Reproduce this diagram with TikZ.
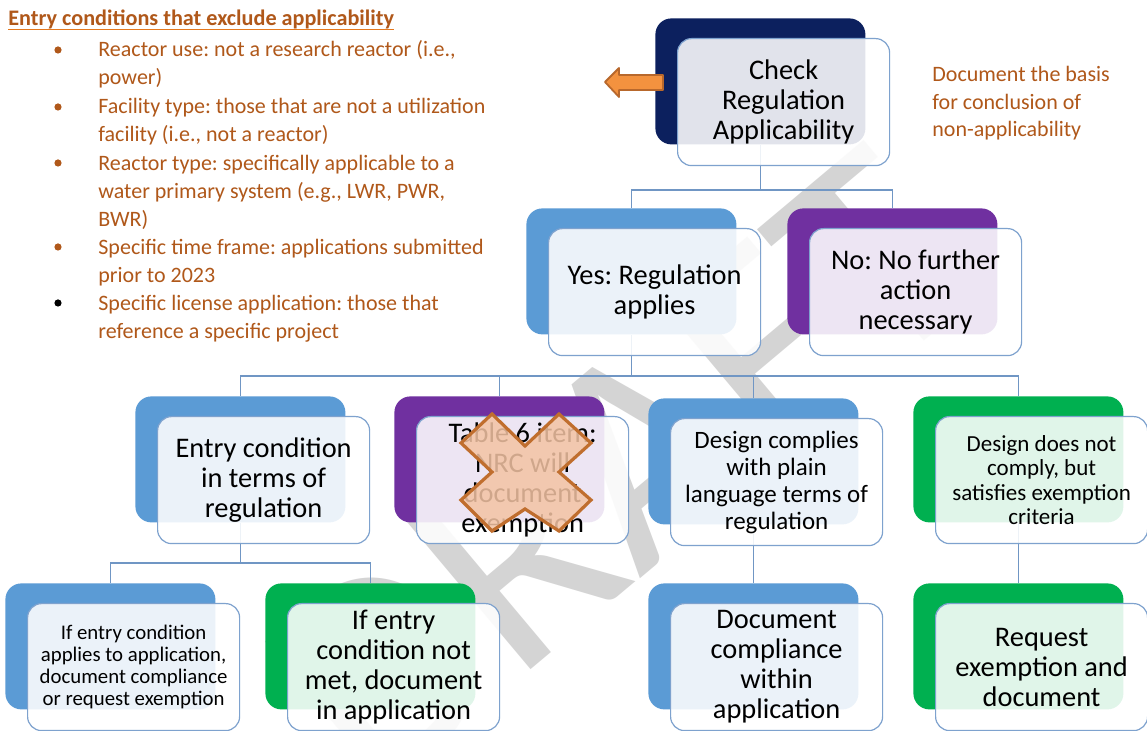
\documentclass[tikz,border=0pt]{standalone}
\usepackage{fontspec}
\setmainfont{Carlito}
\frenchspacing
\usetikzlibrary{calc}
\definecolor{navy}{RGB}{12,32,94}
\definecolor{sblue}{RGB}{91,155,213}
\definecolor{spurple}{RGB}{112,48,160}
\definecolor{sgreen}{RGB}{0,176,80}
\definecolor{brn}{RGB}{176,88,26}
\definecolor{lineblue}{RGB}{112,150,196}
\definecolor{edgeblue}{RGB}{126,162,206}
\definecolor{ulorange}{RGB}{228,120,30}
\definecolor{arrowfill}{RGB}{243,146,63}
\definecolor{arrowedge}{RGB}{184,104,44}
\definecolor{xfill}{RGB}{244,196,164}
\definecolor{xedge}{RGB}{192,110,46}
\pgfdeclarelayer{wm}
\pgfdeclarelayer{lines}
\pgfsetlayers{wm,lines,main}
\tikzset{
  backbox/.style={fill=#1, draw=none, rounded corners=8pt, minimum width=105pt,
    minimum height=63pt, inner sep=0pt, anchor=north west},
  frontbox/.style={fill=white, fill opacity=0.88, text opacity=1, draw=edgeblue,
    line width=0.6pt, rounded corners=7pt, minimum width=106pt, minimum height=63.5pt,
    anchor=north west, inner sep=0pt, align=center, text=black},
  conn/.style={draw=lineblue, line width=0.8pt},
  listline/.style={anchor=base west, inner sep=0pt, text=brn, font=\fontsize{11}{14}\selectfont},
  dot/.style={circle, fill=#1, minimum size=3.6pt, inner sep=0pt},
}
\newcommand\twobox[6]{%
  \node[backbox=#4] (#1B) at (#2,#3) {};
  \node[frontbox, font=#5] (#1) at ([shift={(22,20)}]#2,#3) {#6};
}
\begin{document}
\begin{tikzpicture}[x=0.5pt,y=-0.5pt]
\useasboundingbox (0,0) rectangle (1147,731);

% background and watermark
\begin{pgfonlayer}{wm}
\fill[white] (0,0) rectangle (1147,731);
\node[rotate=40, text=black!17, font=\fontsize{150}{150}\selectfont] (wmark) at (620,470) {DRAFT};
\end{pgfonlayer}

% boxes
\twobox{top}{655}{18}{navy}{\fontsize{14.2}{15}\selectfont}{Check\\Regulation\\Applicability}
\twobox{yes}{526}{208}{sblue}{\fontsize{14.2}{15}\selectfont}{Yes: Regulation\\applies}
\twobox{no}{787}{208}{spurple}{\fontsize{14.2}{15}\selectfont}{No: No further\\action\\necessary}
\twobox{entry}{135}{396}{sblue}{\fontsize{14.2}{15}\selectfont}{Entry condition\\in terms of\\regulation}
\twobox{tsix}{394}{396}{spurple}{\fontsize{14.2}{15}\selectfont}{Table 6 item:\\NRC will\\document\\exemption}
\twobox{comply}{648}{398}{sblue}{\fontsize{12.5}{13.5}\selectfont}{Design complies\\with plain\\language terms of\\regulation}
\twobox{notcomp}{913}{396}{sgreen}{\fontsize{11.5}{12.25}\selectfont}{Design does not\\comply, but\\satisfies exemption\\criteria}
\twobox{ifapp}{5}{583}{sblue}{\fontsize{10.4}{11}\selectfont}{If entry condition\\applies to application,\\document compliance\\or request exemption}
\twobox{ifnot}{265}{583}{sgreen}{\fontsize{14.2}{15}\selectfont}{If entry\\condition not\\met, document\\in application}
\twobox{doccomp}{648}{583}{sblue}{\fontsize{14.2}{15}\selectfont}{Document\\compliance\\within\\application}
\twobox{request}{913}{583}{sgreen}{\fontsize{14.2}{15}\selectfont}{Request\\exemption and\\document}

% connectors
\coordinate (busA) at (0,190);
\coordinate (busB) at (0,376);
\coordinate (busC) at (0,563);
\begin{pgfonlayer}{lines}
\draw[conn] (topB.south) -- (topB.south |- busA) -| (yesB.north);
\draw[conn] (topB.south |- busA) -| (noB.north);
\draw[conn] (yesB.south) -- (yesB.south |- busB) -| (entryB.north);
\draw[conn] (yesB.south |- busB) -| (tsixB.north);
\draw[conn] (yesB.south |- busB) -| (complyB.north);
\draw[conn] (yesB.south |- busB) -| (notcompB.north);
\draw[conn] (entryB.south) -- (entryB.south |- busC) -| (ifappB.north);
\draw[conn] (entryB.south |- busC) -| (ifnotB.north);
\draw[conn] (complyB.south) -- (doccompB.north);
\draw[conn] (notcompB.south) -- (requestB.north);
\end{pgfonlayer}

% orange arrow
\draw[fill=arrowfill, draw=arrowedge, line width=0.9pt, line join=round]
  (605,82) -- (619,68) -- (619,75) -- (663,75) -- (663,90) -- (619,90) -- (619,97) -- cycle;

% cross over Table 6
\draw[fill=xfill, fill opacity=0.85, draw=xedge, line width=1.6pt, line join=miter]
  (461,443) -- (492,414) -- (525,446) -- (559,414) -- (591,443) -- (559,472) --
  (591,500) -- (559,531) -- (525,509) -- (492,531) -- (461,500) -- (492,472) -- cycle;

% heading and list
\node[anchor=base west, inner sep=0pt, text=brn, font=\fontsize{11.1}{14}\selectfont\bfseries] (head) at (8,26) {Entry conditions that exclude applicability};
\draw[ulorange, line width=0.8pt] (head.base west) ++(0,3.5) -- ($(head.base east)+(0,3.5)$);

\node[dot=brn] (d1) at (58,50) {};
\node[listline] (l1a) at (98,57) {Reactor use: not a research reactor (i.e.,};
\node[listline] (l1b) at (98,85) {power)};
\node[dot=brn] (d2) at (58,107) {};
\node[listline] (l2a) at (98,114) {Facility type: those that are not a utilization};
\node[listline] (l2b) at (98,142) {facility (i.e., not a reactor)};
\node[dot=brn] (d3) at (58,163) {};
\node[listline] (l3a) at (98,170.5) {Reactor type: specifically applicable to a};
\node[listline] (l3b) at (98,198.5) {water primary system (e.g., LWR, PWR,};
\node[listline] (l3c) at (98,226.5) {BWR)};
\node[dot=brn] (d4) at (58,247) {};
\node[listline] (l4a) at (98,254.5) {Specific time frame: applications submitted};
\node[listline] (l4b) at (98,282.5) {prior to 2023};
\node[dot=black] (d5) at (58,303) {};
\node[listline] (l5a) at (98,310.5) {Specific license application: those that};
\node[listline] (l5b) at (98,338.5) {reference a specific project};

% right note
\node[listline] (r1) at (932,82) {Document the basis};
\node[listline] (r2) at (932,109.5) {for conclusion of};
\node[listline] (r3) at (932,137) {non-applicability};
\end{tikzpicture}
\end{document}
